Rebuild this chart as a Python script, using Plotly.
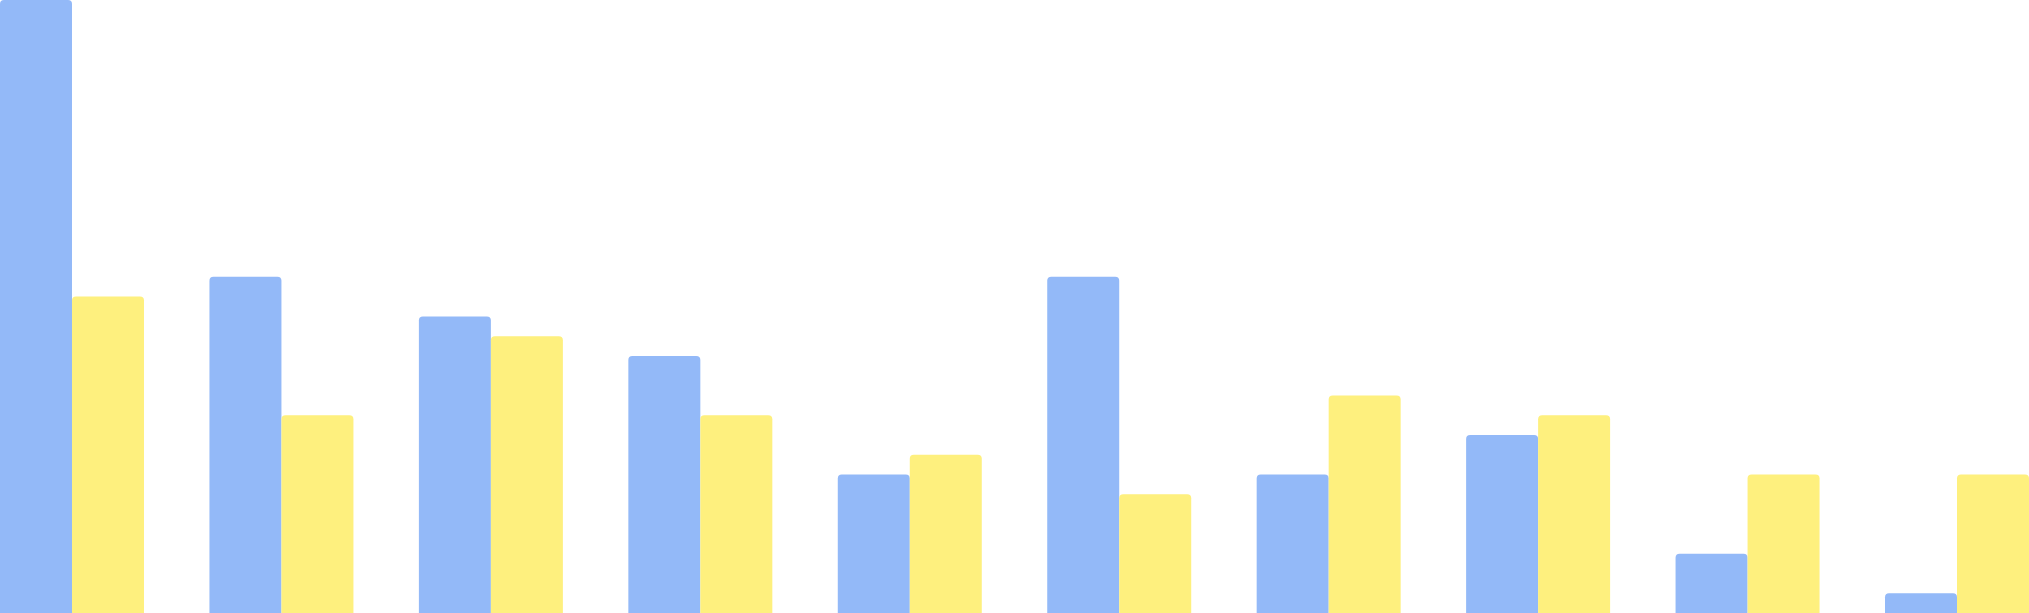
import plotly.graph_objects as go

categories = ["A", "B", "C", "D", "E", "F", "G", "H", "I", "J"]
series_blue = [31, 17, 15, 13, 7, 17, 7, 9, 3, 1]
series_yellow = [16, 10, 14, 10, 8, 6, 11, 10, 7, 7]

BLUE = "#93B9F8"
YELLOW = "#FEF07E"
GAP = 0.3125

fig = go.Figure()
fig.add_trace(go.Bar(x=categories, y=series_blue, marker=dict(color=BLUE, line=dict(width=0)), name="Series 1"))
fig.add_trace(go.Bar(x=categories, y=series_yellow, marker=dict(color=YELLOW, line=dict(width=0)), name="Series 2"))

half = (1 - GAP) / 2
fig.update_layout(
    barmode="group",
    bargap=GAP,
    bargroupgap=0,
    barcornerradius=4,
    width=2029,
    height=613,
    margin=dict(l=0, r=0, t=0, b=0),
    paper_bgcolor="white",
    plot_bgcolor="white",
    showlegend=False,
    xaxis=dict(visible=False, range=[-half, len(categories) - 1 + half]),
    yaxis=dict(visible=False, range=[0, 31]),
)
fig.write_html(
    "out.html",
    config={"displayModeBar": False},
    post_script="document.body.style.margin='0';document.body.style.overflow='hidden';",
)
